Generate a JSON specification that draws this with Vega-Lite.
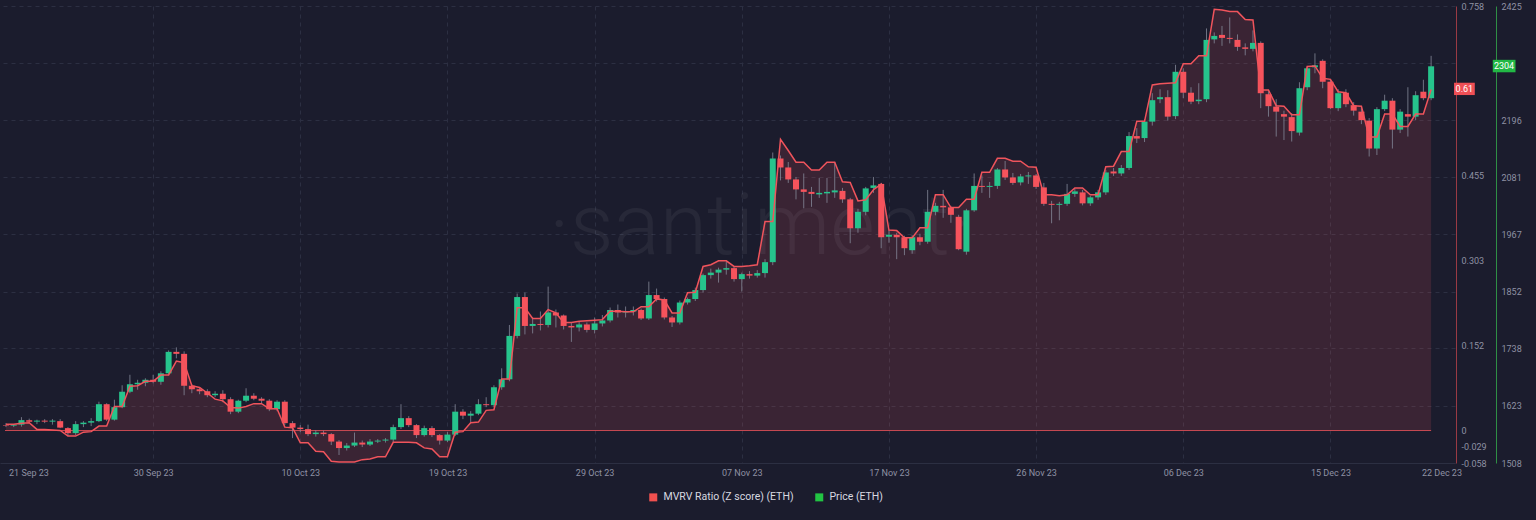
{
"$schema": "https://vega.github.io/schema/vega-lite/v6.json",
"width": 1455, "height": 457,
"autosize": {"type": "none"},
"padding": {"left": 0, "top": 6, "right": 81, "bottom": 57},
"background": "#1b1c2d",
"config": {"view": {"stroke": null}, "font": "Roboto", "axis": {"labelFont": "Roboto", "labelColor": "#8e91a3", "labelFontSize": 9}},
"data": {"values": [
{"t":"2023-09-21T00:00","o":1584,"h":1588,"l":1580,"c":1583,"m":0.011},
{"t":"2023-09-21T12:00","o":1583,"h":1586,"l":1580,"c":1585,"m":0.011},
{"t":"2023-09-22T00:00","o":1585,"h":1600,"l":1581,"c":1594,"m":0.013},
{"t":"2023-09-22T12:00","o":1594,"h":1597,"l":1589,"c":1591,"m":0.014},
{"t":"2023-09-23T00:00","o":1591,"h":1595,"l":1586,"c":1593,"m":0.002},
{"t":"2023-09-23T12:00","o":1593,"h":1596,"l":1588,"c":1591,"m":0.002},
{"t":"2023-09-24T00:00","o":1591,"h":1596,"l":1585,"c":1593,"m":0.001},
{"t":"2023-09-24T12:00","o":1592,"h":1596,"l":1578,"c":1579,"m":0.000},
{"t":"2023-09-25T00:00","o":1578,"h":1580,"l":1562,"c":1568,"m":-0.010},
{"t":"2023-09-25T12:00","o":1568,"h":1592,"l":1564,"c":1586,"m":-0.010},
{"t":"2023-09-26T00:00","o":1586,"h":1592,"l":1580,"c":1589,"m":-0.003},
{"t":"2023-09-26T12:00","o":1589,"h":1598,"l":1582,"c":1592,"m":-0.002},
{"t":"2023-09-27T00:00","o":1592,"h":1631,"l":1590,"c":1626,"m":0.008},
{"t":"2023-09-27T12:00","o":1626,"h":1628,"l":1592,"c":1595,"m":0.008},
{"t":"2023-09-28T00:00","o":1595,"h":1635,"l":1593,"c":1620,"m":0.043},
{"t":"2023-09-28T12:00","o":1620,"h":1664,"l":1618,"c":1651,"m":0.043},
{"t":"2023-09-29T00:00","o":1651,"h":1685,"l":1648,"c":1666,"m":0.079},
{"t":"2023-09-29T12:00","o":1666,"h":1675,"l":1655,"c":1669,"m":0.080},
{"t":"2023-09-30T00:00","o":1669,"h":1678,"l":1662,"c":1675,"m":0.088},
{"t":"2023-09-30T12:00","o":1675,"h":1685,"l":1668,"c":1671,"m":0.088},
{"t":"2023-10-01T00:00","o":1671,"h":1692,"l":1665,"c":1688,"m":0.099},
{"t":"2023-10-01T12:00","o":1688,"h":1734,"l":1684,"c":1731,"m":0.099},
{"t":"2023-10-02T00:00","o":1731,"h":1740,"l":1718,"c":1727,"m":0.124},
{"t":"2023-10-02T12:00","o":1727,"h":1732,"l":1644,"c":1663,"m":0.121},
{"t":"2023-10-03T00:00","o":1663,"h":1666,"l":1648,"c":1656,"m":0.080},
{"t":"2023-10-03T12:00","o":1656,"h":1660,"l":1646,"c":1652,"m":0.077},
{"t":"2023-10-04T00:00","o":1652,"h":1656,"l":1640,"c":1644,"m":0.067},
{"t":"2023-10-04T12:00","o":1644,"h":1652,"l":1640,"c":1647,"m":0.056},
{"t":"2023-10-05T00:00","o":1647,"h":1654,"l":1630,"c":1636,"m":0.053},
{"t":"2023-10-05T12:00","o":1636,"h":1640,"l":1606,"c":1611,"m":0.041},
{"t":"2023-10-06T00:00","o":1611,"h":1635,"l":1608,"c":1633,"m":0.040},
{"t":"2023-10-06T12:00","o":1633,"h":1658,"l":1630,"c":1643,"m":0.043},
{"t":"2023-10-07T00:00","o":1643,"h":1648,"l":1634,"c":1637,"m":0.048},
{"t":"2023-10-07T12:00","o":1637,"h":1640,"l":1628,"c":1633,"m":0.048},
{"t":"2023-10-08T00:00","o":1633,"h":1636,"l":1612,"c":1616,"m":0.039},
{"t":"2023-10-08T12:00","o":1616,"h":1634,"l":1612,"c":1631,"m":0.039},
{"t":"2023-10-09T00:00","o":1631,"h":1634,"l":1584,"c":1588,"m":0.006},
{"t":"2023-10-09T12:00","o":1588,"h":1592,"l":1558,"c":1579,"m":0.005},
{"t":"2023-10-10T00:00","o":1579,"h":1584,"l":1570,"c":1576,"m":-0.022},
{"t":"2023-10-10T12:00","o":1576,"h":1585,"l":1562,"c":1566,"m":-0.022},
{"t":"2023-10-11T00:00","o":1566,"h":1574,"l":1561,"c":1569,"m":-0.037},
{"t":"2023-10-11T12:00","o":1569,"h":1573,"l":1562,"c":1566,"m":-0.038},
{"t":"2023-10-12T00:00","o":1566,"h":1568,"l":1544,"c":1551,"m":-0.055},
{"t":"2023-10-12T12:00","o":1551,"h":1554,"l":1524,"c":1538,"m":-0.056},
{"t":"2023-10-13T00:00","o":1538,"h":1548,"l":1533,"c":1543,"m":-0.056},
{"t":"2023-10-13T12:00","o":1543,"h":1569,"l":1540,"c":1549,"m":-0.056},
{"t":"2023-10-14T00:00","o":1549,"h":1553,"l":1540,"c":1545,"m":-0.052},
{"t":"2023-10-14T12:00","o":1545,"h":1556,"l":1542,"c":1551,"m":-0.051},
{"t":"2023-10-15T00:00","o":1551,"h":1556,"l":1548,"c":1553,"m":-0.047},
{"t":"2023-10-15T12:00","o":1553,"h":1558,"l":1549,"c":1555,"m":-0.047},
{"t":"2023-10-16T00:00","o":1555,"h":1585,"l":1550,"c":1580,"m":-0.021},
{"t":"2023-10-16T12:00","o":1580,"h":1626,"l":1576,"c":1598,"m":-0.021},
{"t":"2023-10-17T00:00","o":1598,"h":1602,"l":1580,"c":1584,"m":-0.021},
{"t":"2023-10-17T12:00","o":1584,"h":1586,"l":1558,"c":1564,"m":-0.022},
{"t":"2023-10-18T00:00","o":1564,"h":1583,"l":1561,"c":1578,"m":-0.031},
{"t":"2023-10-18T12:00","o":1578,"h":1582,"l":1560,"c":1564,"m":-0.033},
{"t":"2023-10-19T00:00","o":1564,"h":1566,"l":1545,"c":1553,"m":-0.047},
{"t":"2023-10-19T12:00","o":1553,"h":1570,"l":1550,"c":1565,"m":-0.047},
{"t":"2023-10-20T00:00","o":1565,"h":1626,"l":1562,"c":1611,"m":-0.003},
{"t":"2023-10-20T12:00","o":1611,"h":1616,"l":1596,"c":1603,"m":-0.002},
{"t":"2023-10-21T00:00","o":1603,"h":1612,"l":1590,"c":1607,"m":0.014},
{"t":"2023-10-21T12:00","o":1607,"h":1636,"l":1604,"c":1626,"m":0.015},
{"t":"2023-10-22T00:00","o":1626,"h":1640,"l":1620,"c":1624,"m":0.036},
{"t":"2023-10-22T12:00","o":1624,"h":1664,"l":1620,"c":1660,"m":0.037},
{"t":"2023-10-23T00:00","o":1660,"h":1698,"l":1655,"c":1676,"m":0.092},
{"t":"2023-10-23T12:00","o":1676,"h":1785,"l":1672,"c":1763,"m":0.092},
{"t":"2023-10-24T00:00","o":1763,"h":1848,"l":1758,"c":1841,"m":0.219},
{"t":"2023-10-24T12:00","o":1841,"h":1850,"l":1766,"c":1783,"m":0.219},
{"t":"2023-10-25T00:00","o":1783,"h":1800,"l":1768,"c":1787,"m":0.200},
{"t":"2023-10-25T12:00","o":1787,"h":1812,"l":1774,"c":1785,"m":0.200},
{"t":"2023-10-26T00:00","o":1785,"h":1862,"l":1780,"c":1810,"m":0.216},
{"t":"2023-10-26T12:00","o":1810,"h":1816,"l":1780,"c":1804,"m":0.210},
{"t":"2023-10-27T00:00","o":1804,"h":1806,"l":1776,"c":1783,"m":0.193},
{"t":"2023-10-27T12:00","o":1783,"h":1790,"l":1751,"c":1780,"m":0.193},
{"t":"2023-10-28T00:00","o":1780,"h":1792,"l":1772,"c":1786,"m":0.195},
{"t":"2023-10-28T12:00","o":1786,"h":1790,"l":1770,"c":1775,"m":0.196},
{"t":"2023-10-29T00:00","o":1775,"h":1800,"l":1768,"c":1788,"m":0.197},
{"t":"2023-10-29T12:00","o":1788,"h":1805,"l":1782,"c":1794,"m":0.198},
{"t":"2023-10-30T00:00","o":1794,"h":1820,"l":1790,"c":1815,"m":0.213},
{"t":"2023-10-30T12:00","o":1815,"h":1826,"l":1800,"c":1810,"m":0.213},
{"t":"2023-10-31T00:00","o":1810,"h":1822,"l":1800,"c":1812,"m":0.212},
{"t":"2023-10-31T12:00","o":1812,"h":1822,"l":1804,"c":1815,"m":0.212},
{"t":"2023-11-01T00:00","o":1815,"h":1818,"l":1795,"c":1798,"m":0.221},
{"t":"2023-11-01T12:00","o":1798,"h":1872,"l":1795,"c":1845,"m":0.221},
{"t":"2023-11-02T00:00","o":1845,"h":1858,"l":1832,"c":1837,"m":0.235},
{"t":"2023-11-02T12:00","o":1837,"h":1840,"l":1796,"c":1800,"m":0.233},
{"t":"2023-11-03T00:00","o":1800,"h":1803,"l":1781,"c":1790,"m":0.210},
{"t":"2023-11-03T12:00","o":1790,"h":1834,"l":1786,"c":1830,"m":0.210},
{"t":"2023-11-04T00:00","o":1830,"h":1840,"l":1826,"c":1837,"m":0.246},
{"t":"2023-11-04T12:00","o":1837,"h":1860,"l":1833,"c":1855,"m":0.247},
{"t":"2023-11-05T00:00","o":1855,"h":1888,"l":1850,"c":1885,"m":0.293},
{"t":"2023-11-05T12:00","o":1885,"h":1898,"l":1878,"c":1890,"m":0.296},
{"t":"2023-11-06T00:00","o":1890,"h":1900,"l":1870,"c":1896,"m":0.303},
{"t":"2023-11-06T12:00","o":1896,"h":1912,"l":1886,"c":1899,"m":0.303},
{"t":"2023-11-07T00:00","o":1899,"h":1902,"l":1872,"c":1877,"m":0.293},
{"t":"2023-11-07T12:00","o":1877,"h":1890,"l":1852,"c":1887,"m":0.293},
{"t":"2023-11-08T00:00","o":1887,"h":1893,"l":1878,"c":1884,"m":0.294},
{"t":"2023-11-08T12:00","o":1884,"h":1895,"l":1880,"c":1889,"m":0.296},
{"t":"2023-11-09T00:00","o":1889,"h":1917,"l":1880,"c":1911,"m":0.373},
{"t":"2023-11-09T12:00","o":1911,"h":2131,"l":1905,"c":2119,"m":0.373},
{"t":"2023-11-10T00:00","o":2119,"h":2125,"l":2075,"c":2101,"m":0.520},
{"t":"2023-11-10T12:00","o":2101,"h":2112,"l":2070,"c":2077,"m":0.500},
{"t":"2023-11-11T00:00","o":2077,"h":2082,"l":2037,"c":2057,"m":0.479},
{"t":"2023-11-11T12:00","o":2057,"h":2089,"l":2019,"c":2052,"m":0.479},
{"t":"2023-11-12T00:00","o":2052,"h":2062,"l":2022,"c":2048,"m":0.465},
{"t":"2023-11-12T12:00","o":2047,"h":2080,"l":2040,"c":2050,"m":0.465},
{"t":"2023-11-13T00:00","o":2049,"h":2080,"l":2030,"c":2052,"m":0.479},
{"t":"2023-11-13T12:00","o":2051,"h":2112,"l":2040,"c":2055,"m":0.479},
{"t":"2023-11-14T00:00","o":2054,"h":2060,"l":2030,"c":2037,"m":0.444},
{"t":"2023-11-14T12:00","o":2037,"h":2040,"l":1949,"c":1979,"m":0.443},
{"t":"2023-11-15T00:00","o":1979,"h":2018,"l":1970,"c":2012,"m":0.410},
{"t":"2023-11-15T12:00","o":2012,"h":2062,"l":2005,"c":2059,"m":0.412},
{"t":"2023-11-16T00:00","o":2060,"h":2082,"l":2050,"c":2065,"m":0.430},
{"t":"2023-11-16T12:00","o":2068,"h":2070,"l":1939,"c":1961,"m":0.440},
{"t":"2023-11-17T00:00","o":1962,"h":1975,"l":1950,"c":1966,"m":0.358},
{"t":"2023-11-17T12:00","o":1966,"h":1970,"l":1917,"c":1961,"m":0.357},
{"t":"2023-11-18T00:00","o":1961,"h":1964,"l":1925,"c":1939,"m":0.344},
{"t":"2023-11-18T12:00","o":1935,"h":1965,"l":1928,"c":1961,"m":0.344},
{"t":"2023-11-19T00:00","o":1961,"h":1968,"l":1945,"c":1952,"m":0.362},
{"t":"2023-11-19T12:00","o":1952,"h":2056,"l":1948,"c":2012,"m":0.362},
{"t":"2023-11-20T00:00","o":2012,"h":2030,"l":2005,"c":2024,"m":0.421},
{"t":"2023-11-20T12:00","o":2024,"h":2056,"l":2000,"c":2021,"m":0.421},
{"t":"2023-11-21T00:00","o":2021,"h":2024,"l":1990,"c":2006,"m":0.398},
{"t":"2023-11-21T12:00","o":2002,"h":2006,"l":1935,"c":1937,"m":0.398},
{"t":"2023-11-22T00:00","o":1932,"h":2018,"l":1926,"c":2015,"m":0.413},
{"t":"2023-11-22T12:00","o":2015,"h":2089,"l":2012,"c":2064,"m":0.413},
{"t":"2023-11-23T00:00","o":2064,"h":2085,"l":2050,"c":2062,"m":0.461},
{"t":"2023-11-23T12:00","o":2062,"h":2072,"l":2040,"c":2064,"m":0.461},
{"t":"2023-11-24T00:00","o":2064,"h":2100,"l":2058,"c":2097,"m":0.486},
{"t":"2023-11-24T12:00","o":2097,"h":2114,"l":2076,"c":2081,"m":0.486},
{"t":"2023-11-25T00:00","o":2081,"h":2090,"l":2066,"c":2070,"m":0.481},
{"t":"2023-11-25T12:00","o":2071,"h":2088,"l":2065,"c":2083,"m":0.481},
{"t":"2023-11-26T00:00","o":2083,"h":2092,"l":2068,"c":2085,"m":0.471},
{"t":"2023-11-26T12:00","o":2085,"h":2088,"l":2058,"c":2062,"m":0.470},
{"t":"2023-11-27T00:00","o":2061,"h":2070,"l":2024,"c":2028,"m":0.421},
{"t":"2023-11-27T12:00","o":2028,"h":2034,"l":1989,"c":2026,"m":0.421},
{"t":"2023-11-28T00:00","o":2026,"h":2032,"l":1995,"c":2028,"m":0.419},
{"t":"2023-11-28T12:00","o":2028,"h":2068,"l":2024,"c":2048,"m":0.421},
{"t":"2023-11-29T00:00","o":2048,"h":2058,"l":2042,"c":2053,"m":0.433},
{"t":"2023-11-29T12:00","o":2051,"h":2056,"l":2025,"c":2029,"m":0.433},
{"t":"2023-11-30T00:00","o":2029,"h":2044,"l":2024,"c":2041,"m":0.421},
{"t":"2023-11-30T12:00","o":2041,"h":2056,"l":2036,"c":2051,"m":0.421},
{"t":"2023-12-01T00:00","o":2051,"h":2096,"l":2046,"c":2091,"m":0.471},
{"t":"2023-12-01T12:00","o":2093,"h":2100,"l":2084,"c":2089,"m":0.472},
{"t":"2023-12-02T00:00","o":2089,"h":2106,"l":2084,"c":2100,"m":0.498},
{"t":"2023-12-02T12:00","o":2100,"h":2172,"l":2096,"c":2164,"m":0.498},
{"t":"2023-12-03T00:00","o":2164,"h":2180,"l":2150,"c":2159,"m":0.552},
{"t":"2023-12-03T12:00","o":2160,"h":2198,"l":2152,"c":2193,"m":0.552},
{"t":"2023-12-04T00:00","o":2193,"h":2250,"l":2185,"c":2236,"m":0.617},
{"t":"2023-12-04T12:00","o":2238,"h":2258,"l":2230,"c":2242,"m":0.619},
{"t":"2023-12-05T00:00","o":2242,"h":2256,"l":2195,"c":2203,"m":0.620},
{"t":"2023-12-05T12:00","o":2204,"h":2307,"l":2198,"c":2293,"m":0.621},
{"t":"2023-12-06T00:00","o":2293,"h":2300,"l":2240,"c":2251,"m":0.655},
{"t":"2023-12-06T12:00","o":2251,"h":2262,"l":2228,"c":2233,"m":0.655},
{"t":"2023-12-07T00:00","o":2234,"h":2270,"l":2228,"c":2237,"m":0.669},
{"t":"2023-12-07T12:00","o":2238,"h":2380,"l":2232,"c":2357,"m":0.669},
{"t":"2023-12-08T00:00","o":2358,"h":2372,"l":2350,"c":2365,"m":0.752},
{"t":"2023-12-08T12:00","o":2367,"h":2385,"l":2345,"c":2361,"m":0.751},
{"t":"2023-12-09T00:00","o":2361,"h":2402,"l":2350,"c":2359,"m":0.748},
{"t":"2023-12-09T12:00","o":2357,"h":2368,"l":2335,"c":2343,"m":0.748},
{"t":"2023-12-10T00:00","o":2342,"h":2350,"l":2326,"c":2339,"m":0.734},
{"t":"2023-12-10T12:00","o":2339,"h":2376,"l":2334,"c":2351,"m":0.733},
{"t":"2023-12-11T00:00","o":2351,"h":2354,"l":2220,"c":2250,"m":0.608},
{"t":"2023-12-11T12:00","o":2248,"h":2254,"l":2203,"c":2224,"m":0.608},
{"t":"2023-12-12T00:00","o":2223,"h":2238,"l":2163,"c":2213,"m":0.580},
{"t":"2023-12-12T12:00","o":2208,"h":2215,"l":2156,"c":2203,"m":0.579},
{"t":"2023-12-13T00:00","o":2202,"h":2210,"l":2153,"c":2174,"m":0.564},
{"t":"2023-12-13T12:00","o":2171,"h":2272,"l":2165,"c":2260,"m":0.564},
{"t":"2023-12-14T00:00","o":2262,"h":2303,"l":2256,"c":2300,"m":0.650},
{"t":"2023-12-14T12:00","o":2302,"h":2330,"l":2290,"c":2306,"m":0.651},
{"t":"2023-12-15T00:00","o":2315,"h":2318,"l":2260,"c":2273,"m":0.629},
{"t":"2023-12-15T12:00","o":2273,"h":2278,"l":2218,"c":2220,"m":0.627},
{"t":"2023-12-16T00:00","o":2220,"h":2258,"l":2214,"c":2250,"m":0.605},
{"t":"2023-12-16T12:00","o":2251,"h":2258,"l":2222,"c":2228,"m":0.603},
{"t":"2023-12-17T00:00","o":2226,"h":2232,"l":2205,"c":2215,"m":0.580},
{"t":"2023-12-17T12:00","o":2213,"h":2220,"l":2188,"c":2196,"m":0.579},
{"t":"2023-12-18T00:00","o":2195,"h":2200,"l":2123,"c":2139,"m":0.524},
{"t":"2023-12-18T12:00","o":2139,"h":2222,"l":2126,"c":2218,"m":0.524},
{"t":"2023-12-19T00:00","o":2218,"h":2247,"l":2214,"c":2235,"m":0.565},
{"t":"2023-12-19T12:00","o":2235,"h":2240,"l":2139,"c":2177,"m":0.565},
{"t":"2023-12-20T00:00","o":2177,"h":2218,"l":2170,"c":2213,"m":0.543},
{"t":"2023-12-20T12:00","o":2208,"h":2262,"l":2163,"c":2203,"m":0.543},
{"t":"2023-12-21T00:00","o":2203,"h":2254,"l":2196,"c":2246,"m":0.565},
{"t":"2023-12-21T12:00","o":2253,"h":2277,"l":2236,"c":2240,"m":0.565},
{"t":"2023-12-22T00:00","o":2240,"h":2325,"l":2236,"c":2304,"m":0.609}
]},
"layer": [
{"layer": [
  {"mark": {"type": "area", "color": "#f0545c", "opacity": 0.15},
   "encoding": {
     "x": {"field": "t", "type": "temporal",
       "scale": {"domain": [{"year": 2023, "month": 9, "date": 20, "hours": 22, "minutes": 30}, {"year": 2023, "month": 12, "date": 23, "hours": 5, "minutes": 15}]},
       "axis": {"title": null,
         "values": [{"year": 2023, "month": 9, "date": 21, "hours": 4}, {"year": 2023, "month": 9, "date": 30, "hours": 12}, {"year": 2023, "month": 10, "date": 10}, {"year": 2023, "month": 10, "date": 19, "hours": 12}, {"year": 2023, "month": 10, "date": 29}, {"year": 2023, "month": 11, "date": 7, "hours": 12}, {"year": 2023, "month": 11, "date": 17}, {"year": 2023, "month": 11, "date": 26, "hours": 12}, {"year": 2023, "month": 12, "date": 6}, {"year": 2023, "month": 12, "date": 15, "hours": 12}, {"year": 2023, "month": 12, "date": 22, "hours": 16}],
         "format": "%d %b %y",
         "labelFlush": false, "labelOverlap": false,
         "labelAlign": {"condition": {"test": "datum.value < time(datetime(2023, 8, 22))", "value": "left"}, "value": "center"},
         "grid": true, "gridColor": "#2c2f42", "gridDash": [4, 4],
         "gridOpacity": {"condition": {"test": "datum.value < time(datetime(2023, 8, 22)) || datum.value > time(datetime(2023, 11, 22))", "value": 0}, "value": 1},
         "ticks": false, "domainColor": "#2c2f42", "labelPadding": 5}},
     "y": {"field": "m", "type": "quantitative",
       "scale": {"domain": [-0.058, 0.758], "nice": false, "zero": false},
       "axis": {"title": null, "orient": "right", "offset": 1, "values": [-0.058, -0.029, 0, 0.152, 0.303, 0.455, 0.758],
         "labelExpr": "'' + datum.value", "grid": false, "ticks": false, "domainColor": "#9a3a44", "labelPadding": 5, "labelFlush": false}},
     "y2": {"datum": 0}}},
  {"data": {"values": [{}]},
   "mark": {"type": "text", "text": "·santiment·", "fontSize": 86, "fontWeight": 300, "font": "Roboto", "color": "#ffffff", "opacity": 0.05, "align": "center", "baseline": "middle"},
   "encoding": {
     "x": {"datum": {"year": 2023, "month": 11, "date": 8, "hours": 16}, "type": "temporal"},
     "y": {"datum": 0.362, "type": "quantitative"}}},
  {"data": {"values": [{}]},
   "mark": {"type": "rule", "color": "#c94a53", "strokeWidth": 1},
   "encoding": {
     "x": {"datum": {"year": 2023, "month": 9, "date": 20, "hours": 22, "minutes": 30}, "type": "temporal"},
     "x2": {"datum": {"year": 2023, "month": 12, "date": 22}},
     "y": {"datum": 0, "type": "quantitative"}}}
]},
{"layer": [
  {"mark": {"type": "rule", "color": "#858899", "strokeWidth": 1, "opacity": 0.8},
   "encoding": {
     "x": {"field": "t", "type": "temporal"},
     "y": {"field": "l", "type": "quantitative", "scale": {"domain": [1508, 2425], "nice": false, "zero": false},
       "axis": {"title": null, "orient": "right", "offset": 41, "values": [1508, 1623, 1738, 1852, 1967, 2081, 2196, 2310, 2425],
         "labelExpr": "datum.value == 2310 ? '' : '' + datum.value", "grid": true, "gridColor": "#2c2f42", "gridDash": [4, 4],
         "ticks": false, "domainColor": "#2f8f45", "labelPadding": 5, "labelFlush": false}},
     "y2": {"field": "h"}}},
  {"mark": {"type": "bar", "size": 6},
   "encoding": {
     "x": {"field": "t", "type": "temporal"},
     "y": {"field": "o", "type": "quantitative"},
     "y2": {"field": "c"},
     "color": {"condition": {"test": "datum.c >= datum.o", "value": "#26c48c"}, "value": "#f6535c"}}},
  {"data": {"values": [{}]},
   "mark": {"type": "rect", "color": "#22b845"},
   "encoding": {
     "x": {"datum": {"year": 2023, "month": 12, "date": 25, "hours": 23, "minutes": 30}, "type": "temporal"},
     "x2": {"datum": {"year": 2023, "month": 12, "date": 27, "hours": 10, "minutes": 45}},
     "y": {"datum": 2317, "type": "quantitative"},
     "y2": {"datum": 2292}}},
  {"data": {"values": [{}]},
   "mark": {"type": "text", "text": "2304", "color": "#ffffff", "fontSize": 9, "align": "center", "baseline": "middle"},
   "encoding": {
     "x": {"datum": {"year": 2023, "month": 12, "date": 26, "hours": 17}, "type": "temporal"},
     "y": {"datum": 2304, "type": "quantitative"}}},
  {"data": {"values": [{"s": "MVRV Ratio (Z score) (ETH)"}, {"s": "Price (ETH)"}]},
   "mark": {"type": "point", "shape": "square", "filled": true, "size": 0},
   "encoding": {
     "x": {"datum": {"year": 2023, "month": 11, "date": 1}, "type": "temporal"},
     "y": {"datum": 2000, "type": "quantitative"},
     "color": {"field": "s", "type": "nominal",
       "scale": {"domain": ["MVRV Ratio (Z score) (ETH)", "Price (ETH)"], "range": ["#f0504f", "#22c443"]},
       "legend": {"title": null, "orient": "none", "legendX": 648, "legendY": 486, "direction": "horizontal",
         "symbolType": "square", "symbolSize": 64, "symbolOpacity": 1, "symbolStrokeWidth": 0,
         "labelColor": "#d8d9e0", "labelFontSize": 10.5, "labelFont": "Roboto", "columnPadding": 20, "labelOffset": 5, "padding": 0}}}}
]},
{"layer": [
  {"mark": {"type": "line", "color": "#f0545c", "strokeWidth": 1.5},
   "encoding": {
     "x": {"field": "t", "type": "temporal"},
     "y": {"field": "m", "type": "quantitative", "scale": {"domain": [-0.058, 0.758], "nice": false, "zero": false}, "axis": null}}},
  {"data": {"values": [{}]},
   "mark": {"type": "rect", "color": "#ef4f55"},
   "encoding": {
     "x": {"datum": {"year": 2023, "month": 12, "date": 23, "hours": 11, "minutes": 30}, "type": "temporal"},
     "x2": {"datum": {"year": 2023, "month": 12, "date": 24, "hours": 19, "minutes": 40}},
     "y": {"datum": 0.621, "type": "quantitative", "axis": null},
     "y2": {"datum": 0.599}}},
  {"data": {"values": [{}]},
   "mark": {"type": "text", "text": "0.61", "color": "#ffffff", "fontSize": 9, "align": "center", "baseline": "middle"},
   "encoding": {
     "x": {"datum": {"year": 2023, "month": 12, "date": 24, "hours": 3, "minutes": 30}, "type": "temporal"},
     "y": {"datum": 0.61, "type": "quantitative", "axis": null}}}
]}
],
"resolve": {"scale": {"y": "independent"}, "axis": {"y": "independent"}}
}
